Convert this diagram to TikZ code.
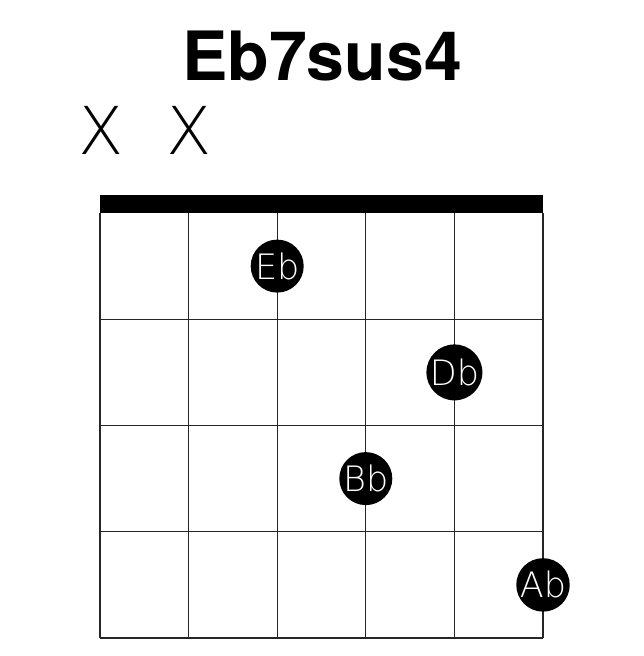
\documentclass[tikz,border=0pt]{standalone}
\usepackage{fontspec}
\setmainfont{TeX Gyre Heros}
\newfontfamily\thinfont{DejaVu Sans ExtraLight}
\begin{document}
\begin{tikzpicture}[x=1pt,y=-1pt,
  gridline/.style={line width=1.3pt,draw=black!85},
  notedot/.style={circle,fill=black,minimum size=53pt,inner sep=0pt,text=white,font=\thinfont\fontsize{35}{35}\selectfont},
  mutemark/.style={font=\thinfont\fontsize{66}{66}\selectfont,inner sep=0pt},
  titletext/.style={font=\bfseries\fontsize{68}{68}\selectfont,inner sep=0pt}]
\useasboundingbox (0,0) rectangle (644,656);
% title
\node[titletext,anchor=base] (title) at (322,80) {Eb7sus4};
% grid
\foreach \i in {0,...,5} {
  \coordinate (s\i top) at ({100+\i*88.6},213);
  \coordinate (s\i bot) at ({100+\i*88.6},638);
  \draw[gridline] (s\i top) -- (s\i bot);
}
\foreach \j in {1,...,4} {
  \coordinate (f\j l) at (100,{213+\j*106.25});
  \coordinate (f\j r) at (543,{213+\j*106.25});
  \draw[gridline] (f\j l) -- (f\j r);
}
% nut
\node[fill=black,inner sep=0pt,minimum width=443pt,minimum height=18pt,anchor=north west] (nut) at (100,195) {};
% mute marks
\node[mutemark] (m0) at (101,130) {X};
\node[mutemark] (m1) at (189.6,130) {X};
% notes
\node[notedot] (eb) at (277.2,266.1) {Eb};
\node[notedot] (db) at (454.4,372.4) {Db};
\node[notedot] (bb) at (365.8,478.6) {Bb};
\node[notedot] (ab) at (543,584.9) {Ab};
\end{tikzpicture}
\end{document}
